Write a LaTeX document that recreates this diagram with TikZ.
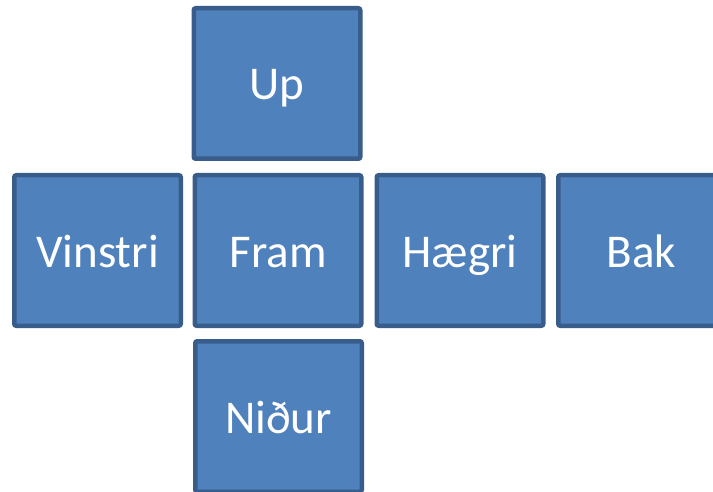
\documentclass[tikz,border=0pt]{standalone}
\usepackage{fontspec}
\setmainfont{Carlito}
\definecolor{facefill}{HTML}{4F81BD}
\definecolor{faceline}{HTML}{385D8A}
\begin{document}
\begin{tikzpicture}[x=1pt,y=-1pt,
  face/.style={rectangle, draw=faceline, fill=facefill, line width=4.5pt,
    rounded corners=2pt, minimum width=166.5pt, minimum height=150.5pt,
    inner sep=0pt, text height=33pt, text depth=0pt,
    text=white, font=\fontsize{47}{56}\selectfont}]
\useasboundingbox (0,0) rectangle (713,492);
\clip (0,0) rectangle (713,492);
\node[face] (up) at (277,83.5) {Up};
\node[face] (vinstri) at (97.5,250.5) {Vinstri};
\node[face] (fram) at (278,250.5) {Fram};
\node[face] (haegri) at (460,250.5) {Hægri};
\node[face] (bak) at (641.5,250.5) {Bak};
\node[face] (nidur) at (278.5,416.5) {Niður};
\end{tikzpicture}
\end{document}
